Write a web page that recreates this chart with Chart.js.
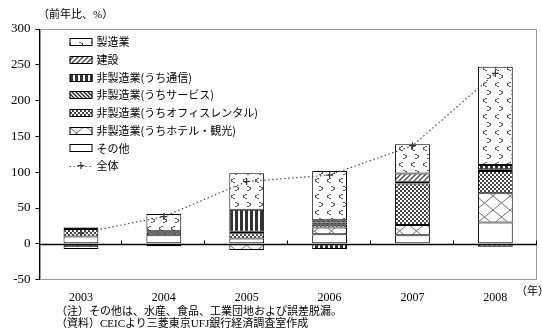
<!DOCTYPE html>
<html>
<head>
<meta charset="utf-8">
<script src="https://cdn.jsdelivr.net/npm/chart.js@4/dist/chart.umd.min.js"></script>
<style>
  html, body { margin: 0; padding: 0; background: #fff; }
  #wrap { position: relative; width: 542px; height: 336px; }
  #c { position: absolute; left: 0; top: 0; }
  .note {
    position: absolute; color: #000; white-space: nowrap; line-height: 1;
    font-family: 'Liberation Serif', 'Noto Sans CJK JP', serif;
  }
</style>
</head>
<body>
<div id="wrap">
  <canvas id="c" width="542" height="336"></canvas>
  <div class="note" style="left:38px;top:9px;font-size:11px">（前年比、%）</div>
  <div class="note" style="left:516px;top:286px;font-size:11px">（年）</div>
  <div class="note" style="left:56px;top:306px;font-size:11px">（注）その他は、水産、食品、工業団地および誤差脱漏。</div>
  <div class="note" style="left:56px;top:318px;font-size:11px">（資料）CEICより三菱東京UFJ銀行経済調査室作成</div>
</div>
<script>
// 直接投資（契約ベース）の前年比寄与度、業種別
const years = ['2003', '2004', '2005', '2006', '2007', '2008'];
const other         = [10.2, 12.0,  7.4, 13.5, 12.1,  29.7];
const hotel         = [ 0.0,  3.5, -8.8,  9.2, 14.0,  41.0];
const office        = [10.3,  0.0,  7.5,  3.8, 58.0,  31.0];
const service       = [ 0.0,  2.0,  1.8,  3.2,  0.0,   2.5];
const telecom       = [ 2.2,  0.0, 30.7, -7.4,  2.5,   6.0];
const construction  = [-2.8, -3.5,  0.0,  3.3, 11.5,  -4.0];
const manufacturing = [-4.5, 24.0, 51.2, 68.8, 41.0, 137.0];
const total         = [15, 38, 87, 96, 137, 238];
const yTicks = [-50, 0, 50, 100, 150, 200, 250, 300];

const canvas = document.getElementById('c');
const ctx = canvas.getContext('2d');

// モノクロのハッチング模様
function tile(w, h, draw) {
  const c = document.createElement('canvas');
  c.width = w; c.height = h;
  const g = c.getContext('2d');
  g.fillStyle = '#fff';
  g.fillRect(0, 0, w, h);
  draw(g, w, h);
  return ctx.createPattern(c, 'repeat');
}
const patManufacturing = tile(12, 16, g => {
  g.fillStyle = '#5e5e5e';
  [[5,2],[4,3],[3,4],[4,5],[5,6],[3,3],[3,5],[6,2],[6,6]].forEach(p => g.fillRect(p[0], p[1], 1, 1));
  [[8,10],[9,11],[10,12],[9,13],[8,14],[10,11],[10,13],[7,10],[7,14]].forEach(p => g.fillRect(p[0], p[1], 1, 1));
});
const patConstruction = tile(5, 5, (g, w, h) => {
  g.strokeStyle = '#4a4a4a'; g.lineWidth = 1.4;
  g.beginPath();
  g.moveTo(-1, h + 1); g.lineTo(w + 1, -1);
  g.moveTo(-1, 1); g.lineTo(1, -1);
  g.moveTo(w - 1, h + 1); g.lineTo(w + 1, h - 1);
  g.stroke();
});
const patTelecom = tile(5, 1, g => {
  g.fillStyle = '#333';
  g.fillRect(0, 0, 3, 1);
});
const patService = tile(4, 4, (g, w, h) => {
  g.strokeStyle = '#222'; g.lineWidth = 1.3;
  g.beginPath();
  g.moveTo(-1, -1); g.lineTo(w + 1, h + 1);
  g.moveTo(w - 1, -1); g.lineTo(w + 1, 1);
  g.moveTo(-1, h - 1); g.lineTo(1, h + 1);
  g.stroke();
});
const patOffice = tile(4, 4, g => {
  g.fillStyle = '#444';
  g.fillRect(0, 0, 4, 4);
  g.fillStyle = '#fff';
  g.fillRect(0, 0, 2, 2);
  g.fillRect(2, 2, 2, 2);
});
const patHotel = tile(17, 14, (g, w, h) => {
  g.strokeStyle = '#707070'; g.lineWidth = 1;
  g.beginPath();
  g.moveTo(0, 0); g.lineTo(w, h);
  g.moveTo(w, 0); g.lineTo(0, h);
  g.stroke();
});

function barSet(label, data, fill) {
  return {
    type: 'bar', label, data,
    backgroundColor: fill,
    borderColor: '#000',
    borderWidth: 1,
    borderSkipped: false,
    barPercentage: 0.42,
    categoryPercentage: 1.0,
    order: 1
  };
}

const datasets = [
  barSet('その他', other, '#ffffff'),
  barSet('非製造業(うちホテル・観光)', hotel, patHotel),
  barSet('非製造業(うちオフィスレンタル)', office, patOffice),
  barSet('非製造業(うちサービス)', service, patService),
  barSet('非製造業(うち通信)', telecom, patTelecom),
  barSet('建設', construction, patConstruction),
  barSet('製造業', manufacturing, patManufacturing),
  {
    type: 'line', label: '全体', data: total,
    borderColor: '#505050', borderWidth: 1.2, borderDash: [1.5, 2.5],
    pointStyle: 'cross', pointRadius: 3.5, pointBorderColor: '#333',
    pointBorderWidth: 1.2, fill: false, tension: 0, order: 0
  }
];
const legendOrder = [6, 5, 4, 3, 2, 1, 0, 7];

const serif = "'Liberation Serif', 'Noto Sans CJK JP', serif";
const cjk = "'Noto Sans CJK JP', sans-serif";

// 枠線・ゼロ線・目盛り・凡例
const decorations = {
  id: 'decorations',
  beforeDatasetsDraw(chart) {
    const { ctx, chartArea: a } = chart;
    ctx.save();
    ctx.strokeStyle = '#999';
    ctx.lineWidth = 1;
    ctx.strokeRect(Math.round(a.left) + 0.5, Math.round(a.top) + 0.5,
      Math.round(a.right - a.left) - 1, Math.round(a.bottom - a.top) - 1);
    ctx.restore();
  },
  afterDatasetsDraw(chart) {
    const { ctx, chartArea: a, scales: { x, y } } = chart;
    const y0 = Math.round(y.getPixelForValue(0)) + 0.5;
    ctx.save();
    ctx.strokeStyle = '#000';
    ctx.lineWidth = 1.5;
    ctx.beginPath();
    ctx.moveTo(a.left, y0); ctx.lineTo(a.right, y0);
    ctx.stroke();
    ctx.lineWidth = 1;
    const step = (a.right - a.left) / years.length;
    ctx.beginPath();
    for (let i = 1; i <= years.length; i++) {
      const bx = Math.round(a.left + step * i) - 0.5;
      ctx.moveTo(bx, y0); ctx.lineTo(bx, y0 - 4);
    }
    ctx.stroke();

    // 凡例
    let lx = a.left + 30, ly = a.top + 12.7;
    ctx.font = '11px ' + cjk;
    ctx.textBaseline = 'middle';
    legendOrder.forEach(i => {
      const ds = chart.data.datasets[i];
      if (ds.type === 'line') {
        ctx.strokeStyle = ds.borderColor;
        ctx.lineWidth = 1.2;
        ctx.setLineDash(ds.borderDash);
        ctx.beginPath();
        ctx.moveTo(lx, Math.round(ly) + 0.5); ctx.lineTo(lx + 23, Math.round(ly) + 0.5);
        ctx.stroke();
        ctx.setLineDash([]);
        ctx.strokeStyle = ds.pointBorderColor;
        ctx.beginPath();
        ctx.moveTo(lx + 11.5, ly - 3.5); ctx.lineTo(lx + 11.5, ly + 3.5);
        ctx.moveTo(lx + 8, ly); ctx.lineTo(lx + 15, ly);
        ctx.stroke();
      } else {
        const ry = Math.round(ly - 3.5) + 0.5;
        ctx.fillStyle = ds.backgroundColor;
        ctx.fillRect(lx, ry, 23, 7);
        ctx.strokeStyle = '#000';
        ctx.lineWidth = 1;
        ctx.strokeRect(lx + 0.5, ry, 22, 7);
      }
      ctx.fillStyle = '#000';
      ctx.fillText(ds.label, lx + 27, ly + 0.5);
      ly += 17.7;
    });
    ctx.restore();
  }
};

new Chart(ctx, {
  data: { labels: years, datasets },
  options: {
    responsive: false,
    animation: false,
    devicePixelRatio: 1,
    layout: { padding: { left: 6, right: 2, top: 29, bottom: 20 } },
    plugins: { legend: { display: false }, tooltip: { enabled: false } },
    scales: {
      x: {
        stacked: true,
        offset: true,
        grid: { display: false, drawTicks: false },
        border: { display: false },
        ticks: { color: '#000', font: { family: serif, size: 12 }, padding: 11, maxRotation: 0 }
      },
      y: {
        stacked: true,
        min: yTicks[0],
        max: yTicks[yTicks.length - 1],
        afterBuildTicks(scale) { scale.ticks = yTicks.map(v => ({ value: v })); },
        ticks: { color: '#000', font: { family: serif, size: 13 }, padding: 5 },
        grid: { drawOnChartArea: false, drawTicks: true, tickLength: 4, color: '#000' },
        border: { display: true, color: '#000', width: 1 }
      }
    }
  },
  plugins: [decorations]
});
</script>
</body>
</html>
